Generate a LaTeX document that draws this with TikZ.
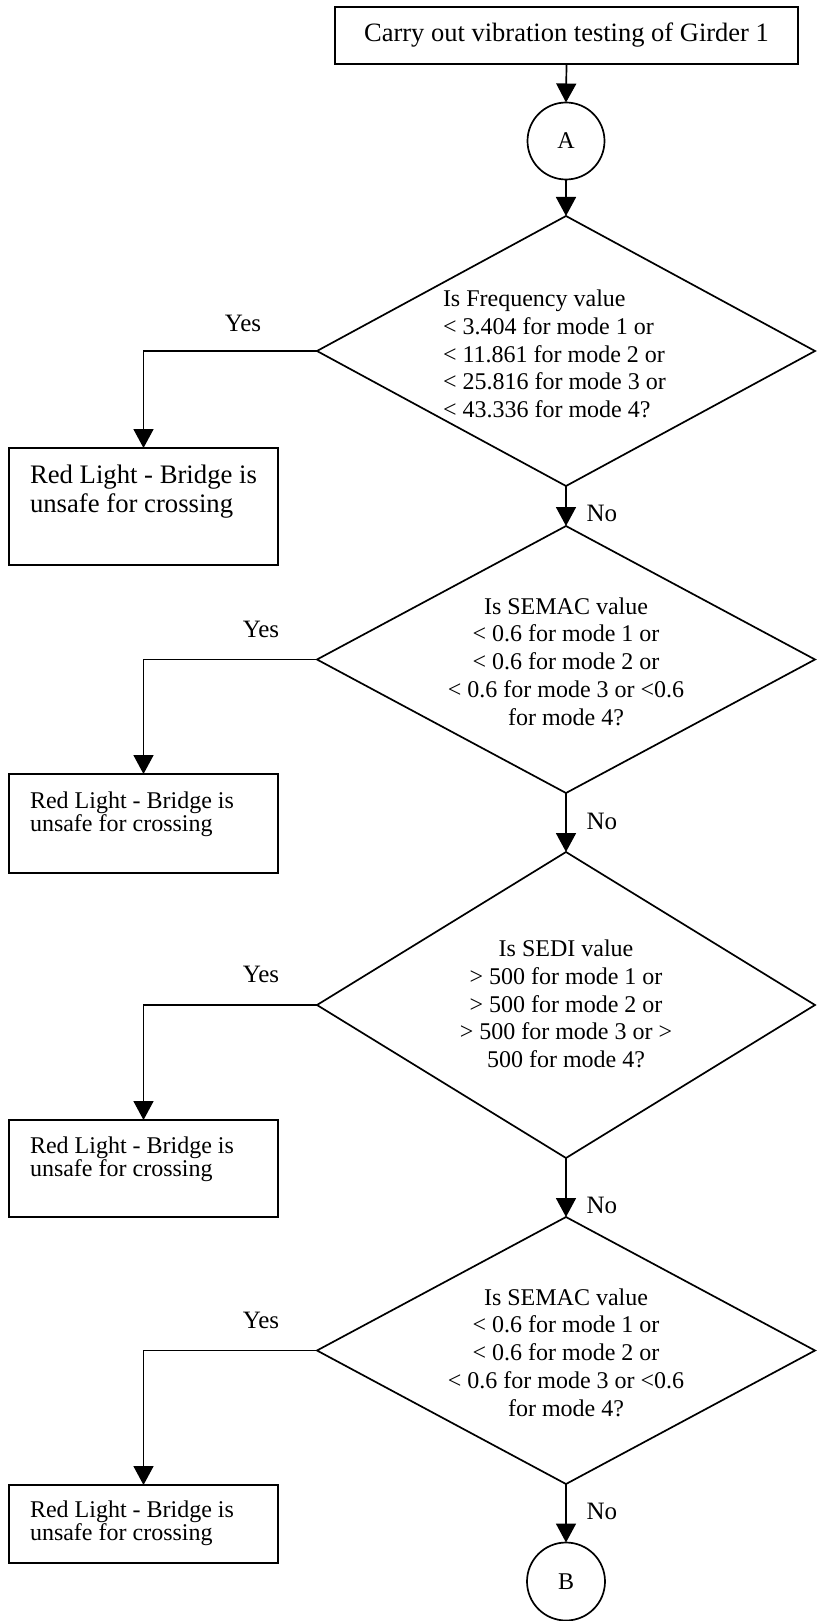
\documentclass[tikz,border=0pt]{standalone}
\usepackage{fontspec}
\setmainfont{Liberation Serif}
\usetikzlibrary{shapes.geometric,arrows.meta,calc}
\begin{document}
\begin{tikzpicture}[x=1pt,y=-1pt,
  every node/.style={inner sep=0pt, outer sep=0pt},
  lw/.style={line width=1.7pt},
  startbox/.style={draw, lw, rectangle, minimum width=463pt, minimum height=57pt, font=\fontsize{26.5}{30}\selectfont},
  redbox/.style={draw, lw, rectangle, minimum width=269pt},
  redtext/.style={align=left, anchor=north west, font=\fontsize{24}{22}\selectfont},
  conn/.style={draw, lw, circle, font=\fontsize{24}{28}\selectfont},
  decision/.style={draw, lw, diamond, minimum width=498pt},
  dtext/.style={font=\fontsize{24}{27.7}\selectfont},
  lab/.style={font=\fontsize{25}{30}\selectfont},
  arr/.style={lw, -{Triangle[length=19pt,width=20pt]}},
]
\useasboundingbox (0,0) rectangle (817,1621);

% main column
\node[startbox] (top) at (566.5,35.5) {Carry out vibration testing of Girder 1};
\node[conn, minimum size=77pt] (A) at (566,141) {A};
\node[decision, minimum height=270pt] (d1) at (566,351) {};
\node[decision, minimum height=267pt] (d2) at (566,659.5) {};
\node[decision, minimum height=306pt] (d3) at (566,1005) {};
\node[decision, minimum height=267pt] (d4) at (566,1350.5) {};
\node[conn, minimum size=78pt] (B) at (566,1581.5) {B};

% decision texts
\node[dtext, align=left, anchor=west] (d1t) at (443,354)
  {Is Frequency value\\< 3.404 for mode 1 or\\< 11.861 for mode 2 or\\< 25.816 for mode 3 or\\< 43.336 for mode 4?};
\node[dtext, align=center] (d2t) at (566,661.5)
  {Is SEMAC value\\< 0.6 for mode 1 or\\< 0.6 for mode 2 or\\< 0.6 for mode 3 or <0.6\\for mode 4?};
\node[dtext, align=center] (d3t) at (566,1004)
  {Is SEDI value\\> 500 for mode 1 or\\> 500 for mode 2 or\\> 500 for mode 3 or >\\500 for mode 4?};
\node[dtext, align=center] (d4t) at (566,1352.5)
  {Is SEMAC value\\< 0.6 for mode 1 or\\< 0.6 for mode 2 or\\< 0.6 for mode 3 or <0.6\\for mode 4?};

% red light boxes
\node[redbox, minimum height=117pt] (r1) at (143.5,506.5) {};
\node[redbox, minimum height=99pt] (r2) at (143.5,823.5) {};
\node[redbox, minimum height=97pt] (r3) at (143.5,1168.5) {};
\node[redbox, minimum height=78pt] (r4) at (143.5,1524) {};
\node[redtext, font=\fontsize{26.7}{29}\selectfont] (r1t) at (30,464.8) {Red Light - Bridge is\\unsafe for crossing};
\node[redtext] (r2t) at (30,791.6) {Red Light - Bridge is\\unsafe for crossing};
\node[redtext] (r3t) at (30,1136.6) {Red Light - Bridge is\\unsafe for crossing};
\node[redtext] (r4t) at (30,1500.6) {Red Light - Bridge is\\unsafe for crossing};

% main connectors
\draw[arr] (top.south) -- (A.north);
\draw[arr] (A.south) -- (d1.north);
\draw[arr] (d1.south) -- (d2.north) node[lab, pos=0.675, right=20.5pt] (n1) {No};
\draw[arr] (d2.south) -- (d3.north) node[lab, pos=0.475, right=20.5pt] (n2) {No};
\draw[arr] (d3.south) -- (d4.north) node[lab, pos=0.8, right=20.5pt] (n3) {No};
\draw[arr] (d4.south) -- (B.north) node[lab, pos=0.475, right=20.5pt] (n4) {No};

% yes branches
\draw[arr] (d1.west) -| (r1.north);
\draw[arr] (d2.west) -| (r2.north);
\draw[arr] (d3.west) -| (r3.north);
\draw[arr] (d4.west) -| (r4.north);
\node[lab] (y1) at (243,323) {Yes};
\node[lab] (y2) at (261,629) {Yes};
\node[lab] (y3) at (261,974) {Yes};
\node[lab] (y4) at (261,1320) {Yes};
\end{tikzpicture}
\end{document}
